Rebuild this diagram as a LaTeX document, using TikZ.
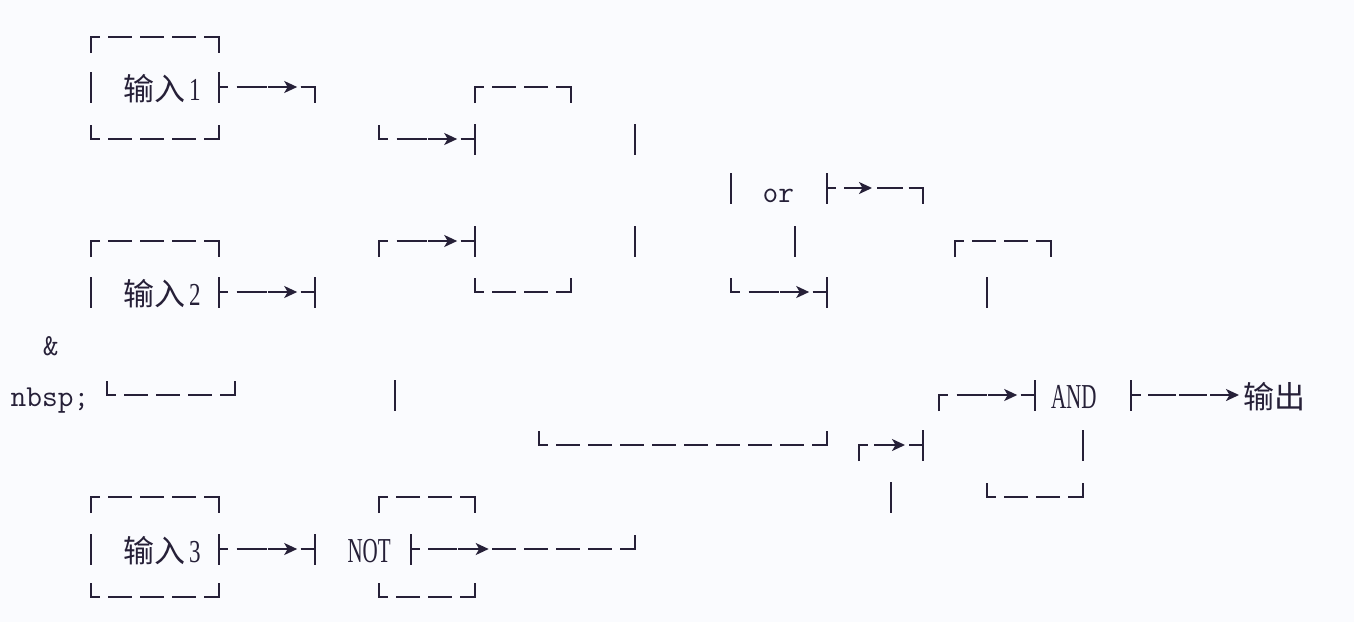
\documentclass[tikz,border=0pt]{standalone}
\usepackage{fontspec}
\usepackage{graphicx}
\usetikzlibrary{arrows.meta}
\newfontfamily\cjkf{Noto Sans CJK SC}
\newfontfamily\serf{Liberation Serif}
\definecolor{ink}{RGB}{38,32,56}
\definecolor{bgc}{RGB}{250,251,254}
\newcommand\cjkt{\fontsize{31}{31}\selectfont\cjkf}
\newcommand\dig[1]{{\fontsize{32}{32}\selectfont\serf\scalebox{0.72}[1]{#1}}}
\newcommand\cond[1]{{\fontsize{35}{35}\selectfont\serf\scalebox{0.6}[1]{#1}}}
\newcommand\monot{\fontsize{30.5}{30.5}\selectfont\ttfamily}
% glyph pieces: x, y(mid)
\newcommand\vb[2]{\draw[ln] (#1,#2-15) -- (#1,#2+16);}
\newcommand\ctl[2]{\draw[ln] (#1,#2+16) -- (#1,#2) -- (#1+9.3,#2);}
\newcommand\ctr[2]{\draw[ln] (#1-14,#2) -- (#1,#2) -- (#1,#2+16);}
\newcommand\cbl[2]{\draw[ln] (#1,#2-14) -- (#1,#2) -- (#1+9.3,#2);}
\newcommand\cbr[2]{\draw[ln] (#1-14,#2) -- (#1,#2) -- (#1,#2-14);}
% dashed horizontal run: [grid offset]{y}{xa}{xb}
\newcommand\hrun[4][108]{\pgfmathsetmacro\ph{mod(#3-#1+640,32)}%
  \draw[ln,dash pattern=on 24pt off 8pt,dash phase=\ph pt] (#3,#2) -- (#4,#2);}
% three-cell arrow run: {y}{x1}
\newcommand\arun[2]{%
  \draw[ln] (#2,#1) -- (#2+9.3,#1);
  \draw[ln] (#2+18,#1) -- (#2+48,#1);
  \draw[arr] (#2+49,#1) -- (#2+78.5,#1);
  \draw[ln] (#2+82,#1) -- (#2+96,#1);}
\begin{document}
\begin{tikzpicture}[x=1pt,y=-1pt,
  ln/.style={draw=ink,line width=2pt,line join=miter},
  arr/.style={ln,-{Stealth[length=13pt,width=12pt,inset=3.5pt]}},
  txt/.style={inner sep=0pt,outer sep=0pt,text=ink}]
\fill[bgc] (0,0) rectangle (1354,622);
\useasboundingbox (0,0) rectangle (1354,622);

% Row A
\ctl{90.7}{37}\hrun{37}{90.7}{218.7}\ctr{218.7}{37}
% Row B
\vb{90.7}{87}
\node[txt,anchor=base west] (in1) at (123,100) {\cjkt 输入\hspace{4pt}\dig{1}};
\vb{218.7}{87}\arun{87}{218.7}\ctr{314.7}{87}
\ctl{474.7}{87}\hrun{87}{474.7}{570.7}\ctr{570.7}{87}
% Row C
\cbl{90.7}{139}\hrun{139}{90.7}{218.7}\cbr{218.7}{139}
\cbl{378.7}{139}\arun{139}{378.7}\vb{474.7}{139}
\vb{634.7}{139}
% Row D
\vb{730.7}{188}
\node[txt,anchor=base west] (orn) at (762.7,202) {\monot or};
\vb{826.7}{188}
\draw[ln] (826.7,188) -- (836,188);
\draw[arr] (844,188) -- (872,188);
\draw[ln] (877,188) -- (903,188);
\ctr{922.7}{188}
% Row E
\ctl{90.7}{241}\hrun{241}{90.7}{218.7}\ctr{218.7}{241}
\ctl{378.7}{241}\arun{241}{378.7}\vb{474.7}{241}
\vb{634.7}{241}\vb{794.7}{241}
\ctl{954.7}{241}\hrun{241}{954.7}{1050.7}\ctr{1050.7}{241}
% Row F
\vb{90.7}{292}
\node[txt,anchor=base west] (in2) at (123,305) {\cjkt 输入\hspace{4pt}\dig{2}};
\vb{218.7}{292}\arun{292}{218.7}\vb{314.7}{292}
\cbl{474.7}{292}\hrun{292}{474.7}{570.7}\cbr{570.7}{292}
\cbl{730.7}{292}\arun{292}{730.7}\vb{826.7}{292}
\vb{986.7}{292}
% Row G
\node[txt,anchor=base] (amp) at (50.7,355) {\monot \&};
% Row H
\node[txt,anchor=base west] (nb) at (10.7,406) {\monot nbsp;};
\cbl{106.7}{395}\hrun[124]{395}{106.7}{234.7}\cbr{234.7}{395}
\vb{394.7}{395}
\ctl{938.7}{395}\arun{395}{938.7}\vb{1034.7}{395}
\node[txt,anchor=base west] (andn) at (1051,408) {\cond{AND}};
\vb{1130.7}{395}
\draw[ln] (1130.7,395) -- (1141,395);
\draw[ln] (1148,395) -- (1176,395);
\draw[ln] (1179,395) -- (1207,395);
\draw[arr] (1210,395) -- (1239,395);
\node[txt,anchor=base west] (outn) at (1243,408) {\cjkt 输出};
% Row I
\cbl{538.7}{445}\hrun{445}{538.7}{826.7}\cbr{826.7}{445}
\ctl{858.7}{445}
\draw[arr] (874,445) -- (905,445);
\draw[ln] (909,445) -- (922.7,445);
\vb{922.7}{445}
\vb{1082.7}{445}
% Row J
\ctl{90.7}{497}\hrun{497}{90.7}{218.7}\ctr{218.7}{497}
\ctl{378.7}{497}\hrun{497}{378.7}{474.7}\ctr{474.7}{497}
\vb{890.7}{497}
\cbl{986.7}{497}\hrun{497}{986.7}{1082.7}\cbr{1082.7}{497}
% Row K
\vb{90.7}{549}
\node[txt,anchor=base west] (in3) at (123,562) {\cjkt 输入\hspace{4pt}\dig{3}};
\vb{218.7}{549}\arun{549}{218.7}\vb{314.7}{549}
\node[txt,anchor=base west] (notn) at (347.5,562) {\cond{NOT}};
\vb{410.7}{549}
\draw[ln] (410.7,549) -- (420,549);
\draw[ln] (428,549) -- (457,549);
\draw[arr] (458,549) -- (488.7,549);
\hrun{549}{492}{634.7}\cbr{634.7}{549}
% Row L
\cbl{90.7}{597}\hrun{597}{90.7}{218.7}\cbr{218.7}{597}
\cbl{378.7}{597}\hrun{597}{378.7}{474.7}\cbr{474.7}{597}
\end{tikzpicture}
\end{document}
